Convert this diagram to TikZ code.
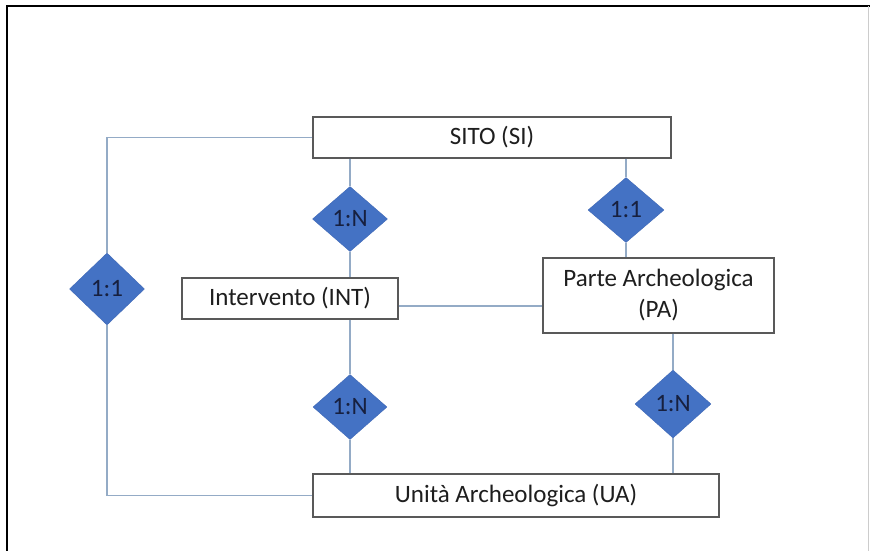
\documentclass[tikz,border=0pt]{standalone}
\usepackage{fontspec}
\setmainfont{Carlito}
\usetikzlibrary{shapes.geometric}
\definecolor{dfill}{HTML}{4472C4}
\definecolor{ddraw}{HTML}{3F68B5}
\definecolor{dtext}{HTML}{17203F}
\definecolor{conn}{HTML}{94ABC6}
\definecolor{boxline}{HTML}{595959}
\definecolor{btext}{HTML}{1E1E1E}
\begin{document}
\begin{tikzpicture}[x=1pt,y=-1pt,
  entity/.style={draw=boxline,line width=1.3pt,fill=white,inner sep=0pt,text=btext,
    font=\fontsize{25}{31}\selectfont,align=center},
  rel/.style={diamond,fill=dfill,draw=ddraw,line width=0.4pt,inner sep=0pt,text=dtext,
    font=\fontsize{25}{28}\selectfont},
  link/.style={draw=conn,line width=1.3pt}]
\useasboundingbox (0,0) rectangle (870,550);
\draw[line width=2pt] (7,552) -- (7,6) -- (872,6);
\draw[gray!40,line width=0.6pt] (868,6) -- (868,552);

\node[entity,minimum width=358pt,minimum height=41pt] (SI) at (492,137.5) {SITO (SI)};
\node[entity,minimum width=216pt,minimum height=41pt] (INT) at (290,298.5) {Intervento (INT)};
\node[entity,minimum width=231pt,minimum height=75pt] (PA) at (658.5,295.5) {Parte Archeologica\\(PA)};
\node[entity,minimum width=406pt,minimum height=43pt] (UA) at (516,495.5) {Unità Archeologica (UA)};

\node[rel,minimum width=75pt,minimum height=65pt] (d1) at (350,219) {1:N};
\node[rel,minimum width=76pt,minimum height=65pt] (d2) at (626,210) {1:1};
\node[rel,minimum width=75pt,minimum height=72pt] (d3) at (107,289) {1:1};
\node[rel,minimum width=74pt,minimum height=65pt] (d4) at (350,407) {1:N};
\node[rel,minimum width=76pt,minimum height=68pt] (d5) at (673,404) {1:N};

\coordinate (h) at (0,306);
\coordinate (lt) at (107,137.5);
\coordinate (lb) at (107,495.5);

\draw[link] (d1.north |- SI.south) -- (d1.north);
\draw[link] (d1.south) -- (d1.south |- INT.north);
\draw[link] (d2.north |- SI.south) -- (d2.north);
\draw[link] (d2.south) -- (d2.south |- PA.north);
\draw[link] (INT.east |- h) -- (PA.west |- h);
\draw[link] (d4.north |- INT.south) -- (d4.north);
\draw[link] (d4.south) -- (d4.south |- UA.north);
\draw[link] (d5.north |- PA.south) -- (d5.north);
\draw[link] (d5.south) -- (d5.south |- UA.north);
\draw[link] (SI.west) -- (lt) -- (d3.north);
\draw[link] (d3.south) -- (lb) -- (UA.west);
\end{tikzpicture}
\end{document}
